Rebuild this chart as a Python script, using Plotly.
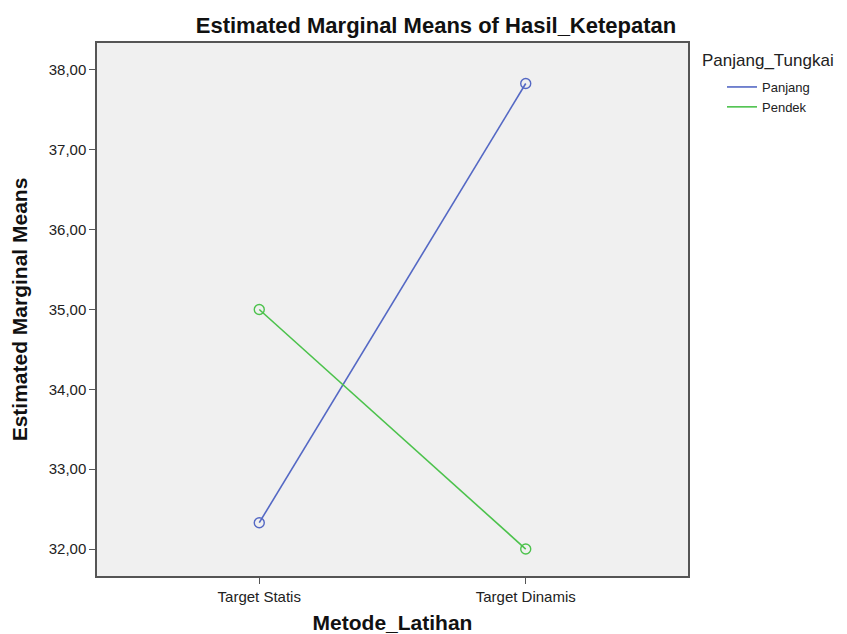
import plotly.graph_objects as go

categories = ["Target Statis", "Target Dinamis"]
panjang = [32.33, 37.83]
pendek = [35.00, 32.00]
series_names = ["Panjang", "Pendek"]
y_ticks = [32, 33, 34, 35, 36, 37, 38]

colors = ["#5468C4", "#4CC24C"]
xs = list(range(len(categories)))

# page body has an 8px margin, so the figure is drawn 8px smaller
W, H = 839, 626
OFF = 8

fig = go.Figure()
for name, vals, c in zip(series_names, [panjang, pendek], colors):
    fig.add_trace(go.Scatter(x=xs, y=vals, mode="lines", name=name,
                             line=dict(color=c, width=1.6), showlegend=True))
    fig.add_trace(go.Scatter(x=xs, y=vals, mode="markers", name=name,
                             marker=dict(symbol="circle-open", size=10, color=c,
                                         line=dict(width=1.4, color=c)),
                             showlegend=False, hoverinfo="skip"))

plot_l, plot_t, plot_r, plot_b = 97 - OFF, 43 - OFF, 688 - OFF, 576 - OFF
ph = plot_b - plot_t
pw = plot_r - plot_l

fig.update_layout(
    width=W, height=H,
    margin=dict(l=plot_l, r=W - plot_r, t=plot_t, b=H - plot_b, autoexpand=False),
    paper_bgcolor="white",
    plot_bgcolor="#F0F0F0",
    separators=",.",
    font=dict(family="Liberation Sans, Arial, sans-serif", color="#222"),
    title=dict(text="<b>Estimated Marginal Means of Hasil_Ketepatan</b>",
               x=(436 - OFF) / W, xanchor="center", y=1 - (25 - OFF) / H, yanchor="middle",
               font=dict(size=22, color="#111")),
    showlegend=True,
    legend=dict(x=(728 - OFF - plot_l - 6) / pw, xanchor="left",
                y=1 - (72 - 43) / ph, yanchor="top",
                bgcolor="rgba(0,0,0,0)", font=dict(size=13, color="#222"),
                tracegroupgap=0, itemwidth=30),
    annotations=[dict(text="Panjang_Tungkai", xref="paper", yref="paper",
                      x=(700 - OFF - plot_l) / pw, y=1 - (61 - 43) / ph,
                      xanchor="left", yanchor="middle",
                      showarrow=False, font=dict(size=17, color="#222"))],
)

fig.update_xaxes(
    tickmode="array", tickvals=xs, ticktext=categories,
    range=[-0.609, 1.609],
    showgrid=False, zeroline=False, automargin=False,
    showline=True, mirror=True, linecolor="#555", linewidth=1.5,
    ticks="outside", ticklen=6, tickcolor="#555",
    tickfont=dict(size=15, color="#222"),
    title=dict(text="<b>Metode_Latihan</b>", font=dict(size=21, color="#111"), standoff=18),
)
fig.update_yaxes(
    tickmode="array", tickvals=y_ticks, tickformat=".2f",
    range=[31.6625, 38.3375],
    showgrid=False, zeroline=False, automargin=False,
    showline=True, mirror=True, linecolor="#555", linewidth=1.5,
    ticks="outside", ticklen=6, tickcolor="#555",
    tickfont=dict(size=15, color="#222"),
    title=dict(text="<b>Estimated Marginal Means</b>", font=dict(size=21, color="#111"), standoff=20),
)

fig.write_html("out.html")
